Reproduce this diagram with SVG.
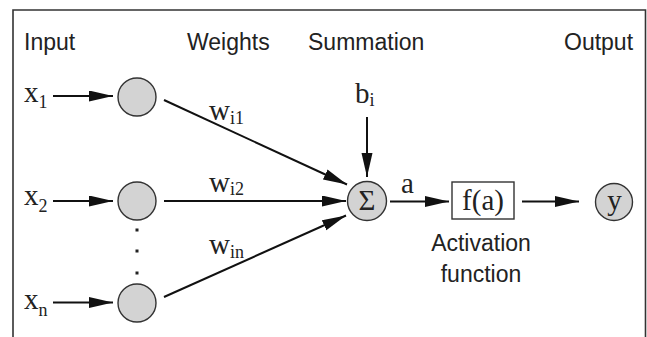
<svg xmlns="http://www.w3.org/2000/svg" width="647" height="337" viewBox="0 0 647 337">
<defs>
<marker id="ah" markerUnits="userSpaceOnUse" markerWidth="24" markerHeight="12" refX="24" refY="5.5" orient="auto">
<path d="M0,0 L24,5.5 L0,11 Z" fill="#111"/>
</marker>
<style>
.sans{font-family:"Liberation Sans",Arial,sans-serif;font-size:23px;fill:#222}
.serif{font-family:"Liberation Serif","Times New Roman",serif;font-size:29px;fill:#222}
.sub{font-size:18px}
.node{fill:#d3d3d3;stroke:#333;stroke-width:1.4}
.edge{stroke:#111;stroke-width:2;fill:none}
</style>
</defs>
<rect width="647" height="337" fill="#fff"/>
<path d="M13,337 V10 H645.5 V337" fill="none" stroke="#333" stroke-width="1.6"/>

<g id="headers">
<text class="sans" x="24" y="50">Input</text>
<text class="sans" x="187" y="50">Weights</text>
<text class="sans" x="308" y="50">Summation</text>
<text class="sans" x="564" y="50">Output</text>
</g>

<g id="input1"><circle class="node" cx="137" cy="97" r="19"/></g>
<g id="input2"><circle class="node" cx="137" cy="201" r="19"/></g>
<g id="inputn"><circle class="node" cx="137" cy="303" r="19"/></g>
<g id="dots" fill="#222">
<rect x="135.5" y="228.5" width="3" height="3"/>
<rect x="135.5" y="249.5" width="3" height="3"/>
<rect x="135.5" y="271.5" width="3" height="3"/>
</g>
<g id="sum"><circle class="node" cx="367" cy="201" r="19.5"/><text class="serif" x="367" y="210" text-anchor="middle">Σ</text></g>
<g id="act"><rect x="452" y="182" width="62" height="37" fill="#fff" stroke="#333" stroke-width="1.4"/><text class="serif" x="483" y="210" text-anchor="middle" font-size="27">f(a)</text></g>
<g id="actlabel">
<text class="sans" x="481" y="250.5" text-anchor="middle" font-size="24">Activation</text>
<text class="sans" x="481" y="281.5" text-anchor="middle" font-size="24">function</text>
</g>
<g id="output"><circle class="node" cx="614" cy="202" r="18.5"/><text class="serif" x="614.5" y="210" text-anchor="middle">y</text></g>

<g id="labels" class="serif">
<text x="24" y="101.5">x<tspan class="sub" dy="6.5">1</tspan></text>
<text x="24" y="205">x<tspan class="sub" dy="6.5">2</tspan></text>
<text x="24" y="309">x<tspan class="sub" dy="6.5">n</tspan></text>
<text x="209" y="120">w<tspan class="sub" dy="3.5">i1</tspan></text>
<text x="209" y="191.5">w<tspan class="sub" dy="3.5">i2</tspan></text>
<text x="209" y="254">w<tspan class="sub" dy="3.5">in</tspan></text>
<text x="355" y="103">b<tspan class="sub" dy="3">i</tspan></text>
<text x="401" y="193">a</text>
</g>

<g id="connectors" class="edge">
<line x1="53" y1="96" x2="113" y2="96" marker-end="url(#ah)"/>
<line x1="53" y1="201" x2="113" y2="201" marker-end="url(#ah)"/>
<line x1="53" y1="302.5" x2="113" y2="302.5" marker-end="url(#ah)"/>
<line x1="164" y1="100" x2="347" y2="184.5" marker-end="url(#ah)"/>
<line x1="164" y1="201" x2="346" y2="201" marker-end="url(#ah)"/>
<line x1="164" y1="297" x2="346" y2="215.5" marker-end="url(#ah)"/>
<line x1="367" y1="117" x2="367" y2="177" marker-end="url(#ah)"/>
<line x1="390" y1="201.5" x2="449" y2="201.5" marker-end="url(#ah)"/>
<line x1="522" y1="201.5" x2="579" y2="201.5" marker-end="url(#ah)"/>
</g>
</svg>
